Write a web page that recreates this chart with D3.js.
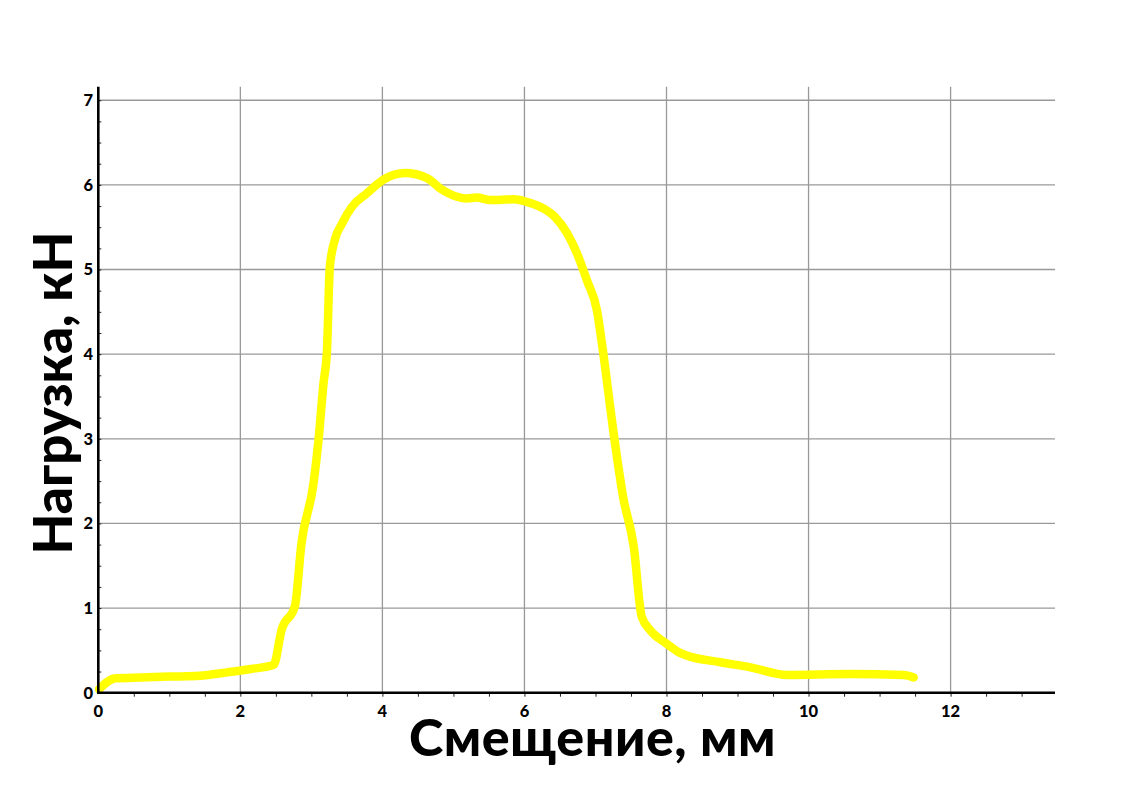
<!DOCTYPE html>
<html><head><meta charset="utf-8">
<script src="https://cdn.jsdelivr.net/npm/d3@7"></script>
<style>
html,body{margin:0;padding:0;background:#fff;}
svg{display:block;}
</style>
</head><body>
<svg id="c" width="1123" height="794"></svg>
<script>
const xVals = [0.01,0.24,0.60,1.00,1.43,1.81,2.15,2.47,2.58,2.77,2.86,3.03,3.10,3.17,3.22,3.26,3.33,3.43,3.57,3.78,4.01,4.32,4.63,4.81,5.05,5.19,5.33,5.52,5.85,6.03,6.27,6.43,6.60,6.74,6.88,7.02,7.11,7.25,7.39,7.54,7.65,7.77,8.00,8.19,8.28,8.76,9.18,9.70,10.59,11.34,11.48];
const yVals = [0.04,0.17,0.18,0.19,0.20,0.24,0.28,0.33,0.74,1.03,1.76,2.47,2.98,3.65,4.05,5.03,5.35,5.54,5.74,5.90,6.06,6.14,6.08,5.96,5.86,5.84,5.85,5.82,5.83,5.80,5.72,5.62,5.43,5.19,4.87,4.52,4.01,3.10,2.31,1.72,0.90,0.74,0.58,0.47,0.44,0.36,0.30,0.21,0.22,0.21,0.18];
const xTicks = [0,2,4,6,8,10,12];
const yTicks = [0,1,2,3,4,5,6,7];
const xTitle = "Смещение, мм";
const yTitle = "Нагрузка, кН";

const svg = d3.select("#c");
const x = d3.scaleLinear().domain([0,13.47]).range([98.3,1055]);
const y = d3.scaleLinear().domain([0,7.16]).range([692.7,86.7]);
const font = "Lato, 'Open Sans', sans-serif";

// grid
const grid = svg.append("g");
grid.selectAll("line.v").data(xTicks.filter(d=>d>0)).join("line")
  .attr("x1",d=>x(d)).attr("x2",d=>x(d)).attr("y1",y.range()[1]).attr("y2",y(0))
  .attr("stroke","#999").attr("stroke-width",1.3);
grid.selectAll("line.h").data(yTicks.filter(d=>d>0)).join("line")
  .attr("x1",x(0)).attr("x2",x.range()[1]).attr("y1",d=>y(d)).attr("y2",d=>y(d))
  .attr("stroke","#999").attr("stroke-width",1.3);

// curve
const pts = xVals.map((v,i)=>[v,yVals[i]]);
svg.append("path").datum(pts)
  .attr("d", d3.line().x(d=>x(d[0])).y(d=>y(d[1])).curve(d3.curveMonotoneX))
  .attr("fill","none").attr("stroke","#ffff00").attr("stroke-width",8.5)
  .attr("stroke-linecap","round").attr("stroke-linejoin","round");

// axes
const xMinor = d3.range(0.5,13.5,0.5);
const yMinor = d3.range(0.25,7.1,0.25);
const xAxis = svg.append("g").attr("transform",`translate(0,${y(0)})`)
  .call(d3.axisBottom(x).tickValues(xMinor).tickSize(4).tickFormat(""));
xAxis.select(".domain").remove();
xAxis.selectAll("line").attr("stroke","#222").attr("stroke-width",1);
const yAxis = svg.append("g").attr("transform",`translate(${x(0)},0)`)
  .call(d3.axisRight(y).tickValues(yMinor).tickSize(3).tickFormat(""));
yAxis.select(".domain").remove();
yAxis.selectAll("line").attr("stroke","#222").attr("stroke-width",1);

svg.append("line").attr("x1",x(0)).attr("x2",x.range()[1]).attr("y1",y(0)).attr("y2",y(0))
  .attr("stroke","#000").attr("stroke-width",2.6);
svg.append("line").attr("x1",x(0)).attr("x2",x(0)).attr("y1",y.range()[1]).attr("y2",y(0)+1.3)
  .attr("stroke","#000").attr("stroke-width",2.6);

// tick labels
svg.append("g").selectAll("text").data(xTicks).join("text")
  .attr("x",d=>x(d)).attr("y",716.5).attr("text-anchor","middle")
  .attr("font-family",font).attr("font-weight",900).attr("font-size",16.5).attr("fill","#000")
  .text(d=>d);
svg.append("g").selectAll("text").data(yTicks).join("text")
  .attr("x",93).attr("y",d=>y(d)+5.8).attr("text-anchor","end")
  .attr("font-family",font).attr("font-weight",900).attr("font-size",16.5).attr("fill","#000")
  .text(d=>d);

// titles
svg.append("text").attr("x",592.5).attr("y",756).attr("text-anchor","middle")
  .attr("font-family",font).attr("font-weight",900).attr("font-size",52).attr("letter-spacing",0.5).attr("fill","#000")
  .text(xTitle);
svg.append("text").attr("transform","translate(72,393) rotate(-90)").attr("text-anchor","middle")
  .attr("font-family",font).attr("font-weight",900).attr("font-size",53).attr("fill","#000")
  .text(yTitle);
</script>
</body></html>
